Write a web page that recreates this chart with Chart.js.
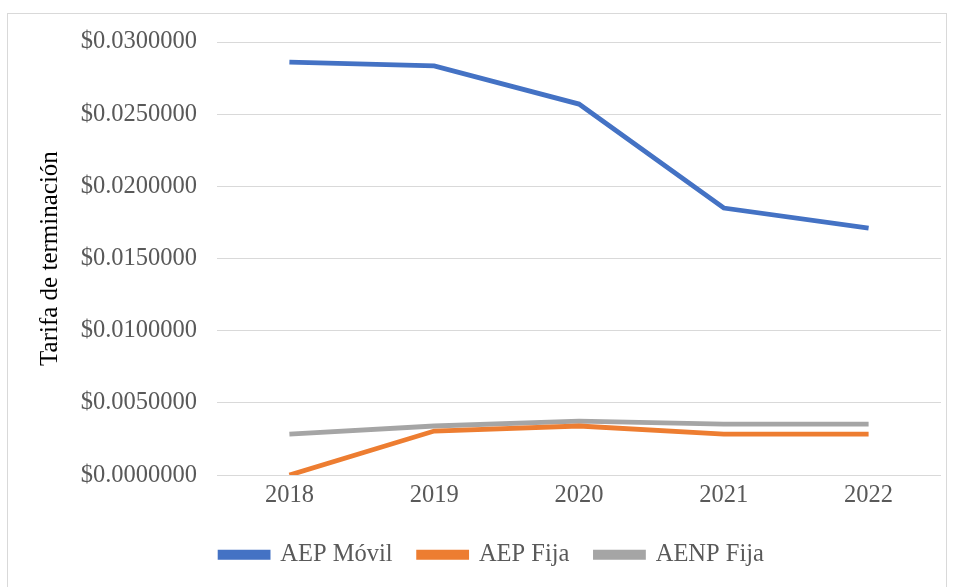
<!DOCTYPE html>
<html>
<head>
<meta charset="utf-8">
<script src="https://cdn.jsdelivr.net/npm/chart.js@4/dist/chart.umd.min.js"></script>
<style>
  html, body { margin: 0; padding: 0; background: #fff; }
  body { width: 954px; height: 587px; overflow: hidden; position: relative; }
  #frame {
    position: absolute; left: 7px; top: 13px;
    width: 938px; height: 580px;
    border: 1px solid #d9d9d9;
  }
  #wrap { position: absolute; left: 0; top: 0; width: 938px; height: 563px; }
</style>
</head>
<body>
<div id="frame">
  <div id="wrap"><canvas id="chart"></canvas></div>
</div>
<script>
const years = ["2018", "2019", "2020", "2021", "2022"];
const aepMovil = [0.02861, 0.02834, 0.02570, 0.01850, 0.01711];
const aepFija = [0.0, 0.00305, 0.0034, 0.00284, 0.00284];
const aenpFija = [0.00284, 0.0034, 0.00374, 0.00353, 0.00353];
const yTicks = [0, 0.005, 0.01, 0.015, 0.02, 0.025, 0.03];

Chart.defaults.font.family = "'Liberation Serif', 'Times New Roman', serif";
Chart.defaults.color = "#595959";

const section = document.getElementById("chart");

function line(label, data, color) {
  return {
    label: label,
    data: data,
    borderColor: color,
    backgroundColor: color,
    borderWidth: 4.8,
    pointRadius: 0,
    tension: 0,
  };
}

const config = {
  type: "line",
  data: {
    labels: years,
    datasets: [
      line("AEP Móvil", aepMovil, "#4472C4"),
      line("AEP Fija", aepFija, "#ED7D31"),
      line("AENP Fija", aenpFija, "#A5A5A5"),
    ],
  },
  options: {
    responsive: true,
    maintainAspectRatio: false,
    animation: false,
    layout: { padding: { top: 28, right: 5, bottom: 0, left: 35 } },
    plugins: {
      tooltip: { enabled: false },
      legend: {
        position: "bottom",
        labels: {
          font: { size: 24.5 },
          color: "#595959",
          boxWidth: 48,
          boxHeight: 5,
          padding: 26,
        },
      },
    },
    scales: {
      x: {
        offset: true,
        grid: { display: false, drawTicks: false },
        border: { display: false },
        ticks: { font: { size: 24.5 }, padding: 6, color: "#595959" },
      },
      y: {
        min: 0,
        max: 0.03,
        afterBuildTicks: (scale) => {
          scale.ticks = yTicks.map((v) => ({ value: v }));
        },
        afterFit: (scale) => {
          scale.width = 174;
        },
        grid: {
          color: "#d9d9d9",
          lineWidth: 1,
          drawTicks: true,
          tickLength: 20,
          tickColor: "rgba(0,0,0,0)",
        },
        border: { display: false },
        ticks: {
          font: { size: 24.5 },
          padding: 0,
          color: "#595959",
          callback: (v) => "$" + Number(v).toFixed(7),
        },
        title: {
          display: true,
          text: "Tarifa de terminación",
          font: { size: 25 },
          color: "#000",
          padding: { top: -8, bottom: 0 },
        },
      },
    },
  },
};

const lineChart = new Chart(section, config);
</script>
</body>
</html>
